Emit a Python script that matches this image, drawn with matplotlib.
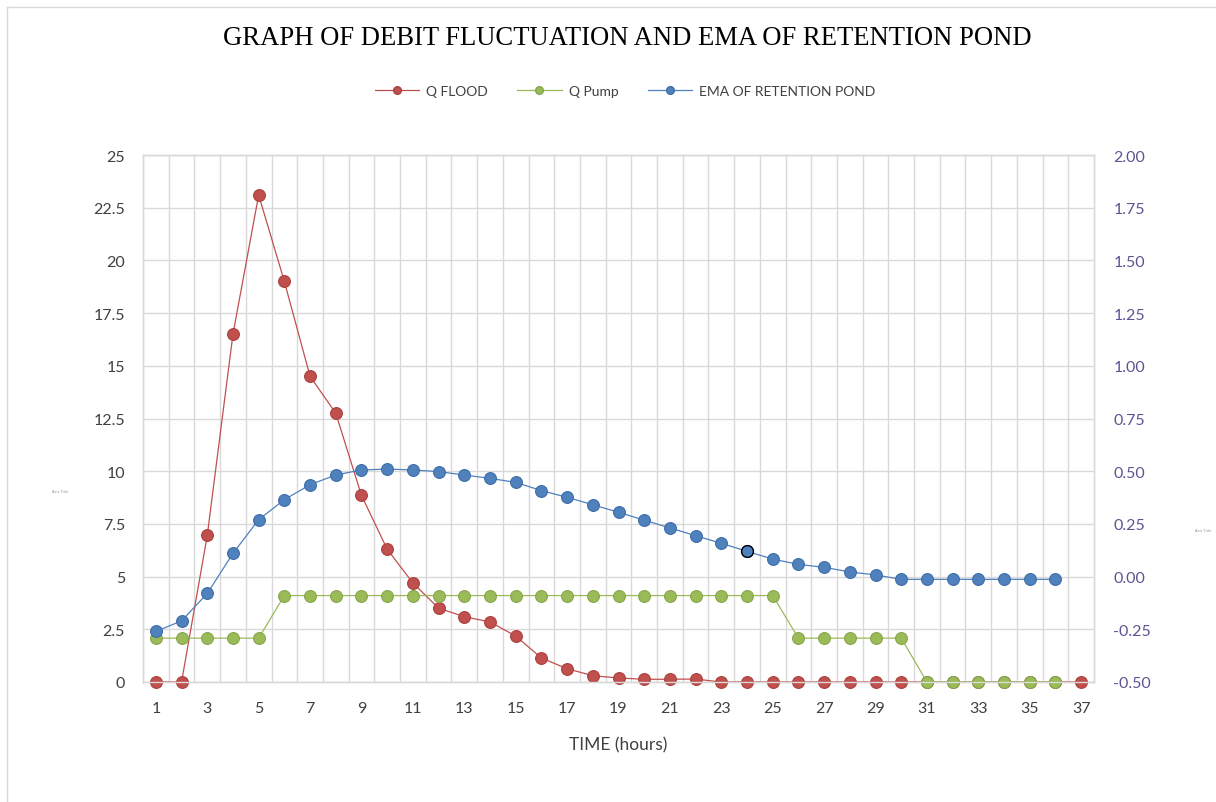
import numpy as np
import matplotlib.pyplot as plt
from matplotlib.lines import Line2D

# --- datos ---
horas = list(range(1, 38))
q_flood = [0, 0, 6.95, 16.5, 23.1, 19.0, 14.5, 12.75, 8.85, 6.3, 4.7, 3.5, 3.1,
           2.85, 2.18, 1.14, 0.63, 0.3, 0.19, 0.13, 0.13, 0.14,
           0, 0, 0, 0, 0, 0, 0, 0, 0, 0, 0, 0, 0, 0, 0]
q_pump = [2.08, 2.08, 2.08, 2.08, 2.08,
          4.1, 4.1, 4.1, 4.1, 4.1, 4.1, 4.1, 4.1, 4.1, 4.1,
          4.1, 4.1, 4.1, 4.1, 4.1, 4.1, 4.1, 4.1, 4.1, 4.1,
          2.08, 2.08, 2.08, 2.08, 2.08,
          0, 0, 0, 0, 0, 0]
ema = [-0.26, -0.21, -0.08, 0.11, 0.27, 0.365, 0.436, 0.482, 0.506, 0.51,
       0.506, 0.498, 0.482, 0.466, 0.447, 0.408, 0.376, 0.341, 0.305, 0.268,
       0.231, 0.194, 0.158, 0.12, 0.083, 0.058, 0.044, 0.022, 0.008,
       -0.013, -0.013, -0.013, -0.013, -0.013, -0.013, -0.013]

etiquetas_x = [str(h) for h in horas[::2]]
ticks_izq = np.arange(0, 25.01, 2.5)
ticks_der = np.arange(-0.5, 2.01, 0.25)

# --- estilo ---
rojo, rojo_borde = '#C0504D', '#A9403D'
verde, verde_borde = '#9BBB59', '#86A54A'
azul, azul_borde = '#4F81BD', '#3C6DA8'
gris_grid = '#D9D9D9'
fuente = 'Lato'

fig = plt.figure(figsize=(12.16, 8.03), dpi=100)
ax = fig.add_axes([143 / 1216, 1 - 683 / 803, (1094 - 143) / 1216, (683 - 156) / 803])
ax2 = ax.twinx()

ax.plot(horas, q_flood, '-o', color=rojo, lw=0.9, ms=8.5, clip_on=False,
        mfc=rojo, mec=rojo_borde, mew=0.8, label='Q FLOOD', zorder=3)
ax.plot(horas[:len(q_pump)], q_pump, '-o', color=verde, lw=0.9, ms=8.5, clip_on=False,
        mfc=verde, mec=verde_borde, mew=0.8, label='Q Pump', zorder=4)
ax2.plot(horas[:len(ema)], ema, '-o', color=azul, lw=0.9, ms=8.5, clip_on=False,
         mfc=azul, mec=azul_borde, mew=0.8, label='EMA OF RETENTION POND', zorder=5)
# punto seleccionado (borde negro) en la hora 24
ax2.plot([horas[23]], [ema[23]], 'o', ms=8.5, mfc=azul, mec='black', mew=1.0, zorder=6)

# ejes
ax.set_xlim(0.5, 37.5)
ax.set_ylim(0, 25)
ax2.set_ylim(-0.5, 2.0)
ax.set_xticks(horas[::2])
ax.set_xticklabels(etiquetas_x)
ax.set_xticks(np.arange(1.5, 37.5, 1), minor=True)
ax.set_yticks(ticks_izq)
ax.set_yticklabels([f"{v:g}" for v in ticks_izq])
ax2.set_yticks(ticks_der)
ax2.set_yticklabels([f"{v:.2f}" for v in ticks_der])

ax.grid(True, which='minor', axis='x', color=gris_grid, lw=1.0)
ax.grid(True, which='major', axis='y', color=gris_grid, lw=1.0)
ax.set_axisbelow(True)

for a in (ax, ax2):
    for s in a.spines.values():
        s.set_color(gris_grid)
        s.set_linewidth(1.0)
    a.tick_params(which='both', length=0)

ax.tick_params(axis='x', colors='#404040', labelsize=11.5, pad=14)
ax.tick_params(axis='y', colors='#404040', labelsize=11.5, pad=13)
ax2.tick_params(axis='y', colors='#5A5592', labelsize=11.5, pad=14)
for lab in ax.get_xticklabels() + ax.get_yticklabels() + ax2.get_yticklabels():
    lab.set_family(fuente)

ax.set_xlabel('TIME (hours)', fontsize=12.5, color='#404040', family=fuente, labelpad=15)

# titulo y leyenda
fig.text(0.516, 0.9515, 'GRAPH OF DEBIT FLUCTUATION AND EMA OF RETENTION POND',
         ha='center', va='center', fontsize=19.2, family='Liberation Serif', color='black')

h1, l1 = ax.get_legend_handles_labels()
h2, l2 = ax2.get_legend_handles_labels()
handles = [Line2D([], [], color=h.get_color(), lw=0.9, marker='o', ms=5.5,
                  mfc=h.get_markerfacecolor(), mec=h.get_markeredgecolor())
           for h in h1 + h2]
fig.legend(handles, l1 + l2, loc='center', bbox_to_anchor=(0.514, 0.886), ncol=3,
           frameon=False, prop={'family': fuente, 'size': 10}, handlelength=3.2,
           columnspacing=2.1, handletextpad=0.5, labelcolor='#404040')

# titulos de eje vacios (muy pequenos en el original)
fig.text(60 / 1216, 1 - 492 / 803, 'Axis Title', fontsize=2.5, color='#8C8C8C',
         ha='center', va='center')
fig.text(1203 / 1216, 1 - 531 / 803, 'Axis Title', fontsize=2.5, color='#8C8C8C',
         ha='center', va='center')

# marco del area del grafico
fig.add_artist(Line2D([7 / 1216, 7 / 1216], [0, 1 - 8 / 803], transform=fig.transFigure,
                      color=gris_grid, lw=1.0))
fig.add_artist(Line2D([7 / 1216, 1], [1 - 8 / 803, 1 - 8 / 803], transform=fig.transFigure,
                      color=gris_grid, lw=1.0))

fig.savefig('out.png', dpi=100)
